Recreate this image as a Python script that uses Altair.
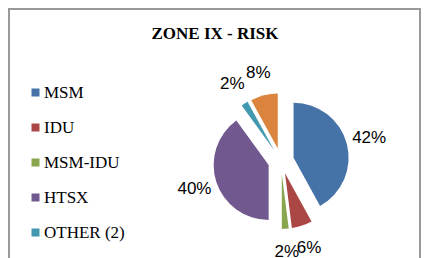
import altair as alt
import pandas as pd

categories = ["MSM", "IDU", "MSM-IDU", "HTSX", "OTHER (2)", "OTHER (1)"]
shares = [42, 6, 2, 40, 2, 8]
colors = ["#4572A7", "#AA4643", "#89A54E", "#71588F", "#4198AF", "#DB843D"]
title_text = "ZONE IX - RISK"

df = pd.DataFrame({"cat": categories, "share": shares, "idx": list(range(len(categories)))})

CX, CY, R, EXPLODE, LABEL_R = 273, 153, 55, 13, 91

base = alt.Chart(df).transform_joinaggregate(
    total="sum(share)"
).transform_window(
    cum="sum(share)", sort=[alt.SortField("idx")], frame=[None, 0]
).transform_calculate(
    a0="2*PI*(datum.cum - datum.share)/datum.total",
    a1="2*PI*datum.cum/datum.total",
    lab="format(datum.share/datum.total, '.0%')",
).transform_calculate(
    mid="(datum.a0 + datum.a1)/2"
).transform_calculate(
    cx=f"{CX} + {EXPLODE}*sin(datum.mid)",
    cy=f"{CY} - {EXPLODE}*cos(datum.mid)",
    lx=f"{CX} + {LABEL_R}*sin(datum.mid)",
    ly=f"{CY} - {LABEL_R}*cos(datum.mid)",
)

arcs = base.mark_arc(radius=R).encode(
    theta=alt.Theta("a0:Q", scale=None, stack=None),
    theta2=alt.Theta2("a1:Q"),
    x=alt.X("cx:Q", scale=None, axis=None),
    y=alt.Y("cy:Q", scale=None, axis=None),
    color=alt.Color(
        "cat:N",
        scale=alt.Scale(domain=categories, range=colors),
        sort=categories,
        legend=alt.Legend(
            title=None, orient="none", legendX=19, legendY=76,
            symbolType="square", symbolSize=64, symbolStrokeWidth=0,
            labelFont="Liberation Serif", labelFontSize=17, labelColor="#000000",
            labelOffset=0, rowPadding=17, padding=0,
        ),
    ),
)

labels = base.mark_text(font="Liberation Sans", fontSize=17, color="#000000",
                        align="center", baseline="middle").encode(
    x=alt.X("lx:Q", scale=None, axis=None),
    y=alt.Y("ly:Q", scale=None, axis=None),
    text="lab:N",
)

frame = alt.Chart(pd.DataFrame({"t": [title_text]})).mark_rect(
    fill=None, stroke="#999999", strokeWidth=2
).encode(x=alt.value(1), x2=alt.value(412), y=alt.value(1), y2=alt.value(400))

title = alt.Chart(pd.DataFrame({"t": [title_text]})).mark_text(
    font="Liberation Serif", fontSize=17, fontWeight="bold", color="#000000",
    align="center", baseline="middle"
).encode(x=alt.value(207), y=alt.value(26), text="t:N")

chart = alt.layer(frame, title, arcs, labels).properties(
    width=413, height=250, autosize=alt.AutoSizeParams(type="none"), padding=0
).configure_view(stroke=None)

chart.save("out.html", embed_options={"renderer": "svg", "actions": False})
